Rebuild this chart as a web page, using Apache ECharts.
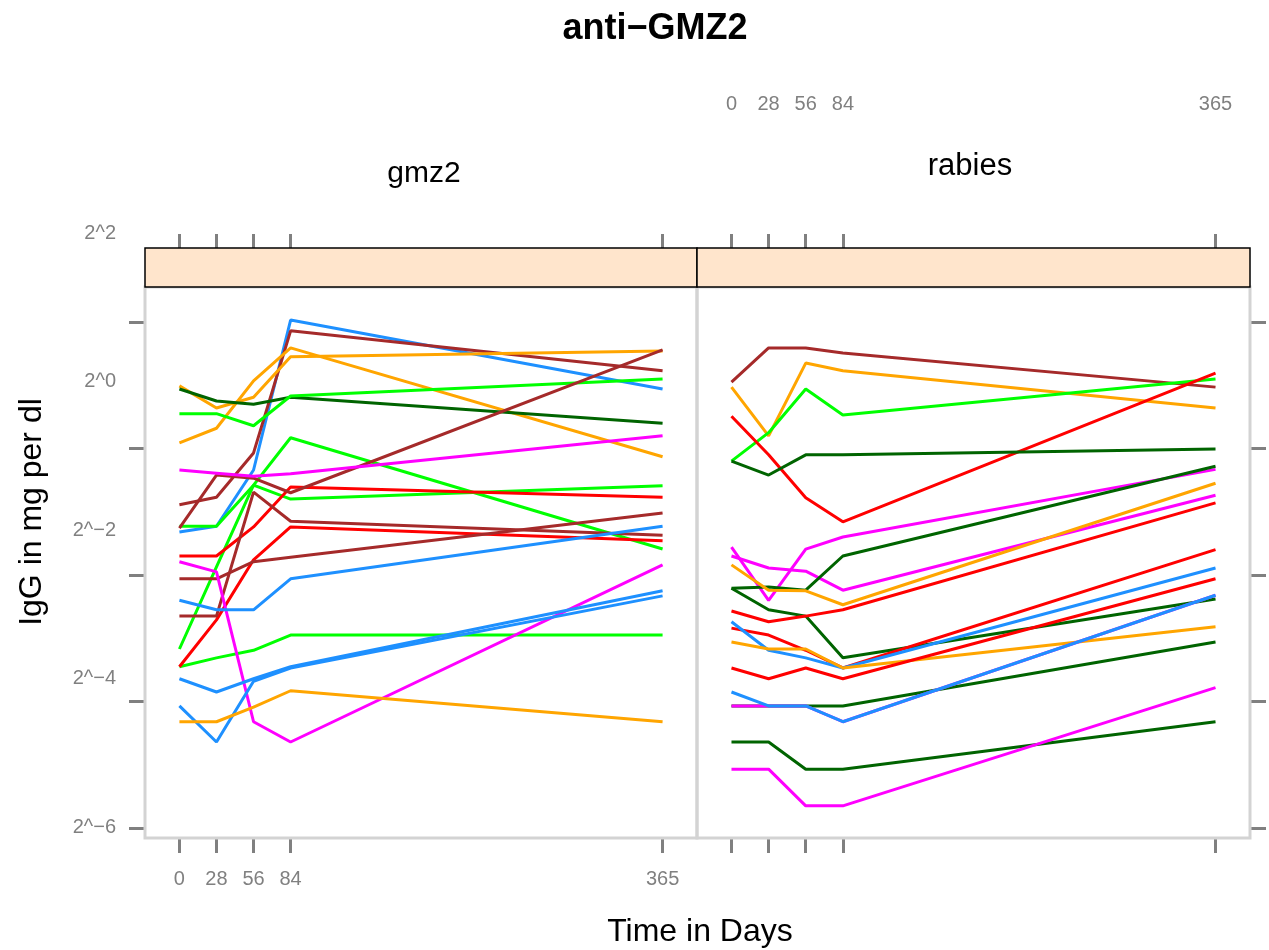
<!DOCTYPE html>
<html>
<head>
<meta charset="utf-8">
<script src="https://cdn.jsdelivr.net/npm/echarts@6/dist/echarts.min.js"></script>
<style>
html,body{margin:0;padding:0;background:#fff;}
#chart{width:1269px;height:950px;}
</style>
</head>
<body>
<div id="chart"></div>
<script>
// ---------- DATA (IgG in mg per dl, stored as log2 exponent) ----------
const days = [0, 28, 56, 84, 365];
const dayTicks = [0, 28, 56, 84, 365];
const yTickExponents = [-6, -4, -2, 0, 2];
const panelNames = ['gmz2', 'rabies'];

// gmz2 panel
const gmz2_blue1   = [-1.32, -1.23, -0.34, 2.03, 0.94];
const gmz2_brown1  = [-0.89, -0.77, -0.07, 1.86, 1.23];
const gmz2_orange1 = [0.99, 0.64, 0.81, 1.45, 1.54];
const gmz2_orange2 = [0.09, 0.32, 1.07, 1.59, -0.13];
const gmz2_dkgreen1= [0.94, 0.75, 0.70, 0.81, 0.40];
const gmz2_green1  = [0.55, 0.55, 0.36, 0.83, 1.10];
const gmz2_green2  = [-1.23, -1.23, -0.58, 0.17, -1.59];
const gmz2_green3  = [-3.17, -1.87, -0.58, -0.80, -0.59];
const gmz2_green4  = [-3.45, -3.31, -3.19, -2.95, -2.95];
const gmz2_red1    = [-1.70, -1.70, -1.24, -0.61, -0.77];
const gmz2_red2    = [-3.45, -2.71, -1.76, -1.24, -1.46];
const gmz2_brown2  = [-1.26, -0.42, -0.47, -0.70, 1.56];
const gmz2_brown3  = [-2.06, -2.06, -1.79, -1.72, -1.02];
const gmz2_brown4  = [-2.65, -2.65, -0.69, -1.15, -1.37];
const gmz2_magenta1= [-0.34, -0.39, -0.44, -0.40, 0.20];
const gmz2_magenta2= [-1.79, -1.95, -4.32, -4.64, -1.84];
const gmz2_blue2   = [-2.40, -2.55, -2.55, -2.06, -1.23];
const gmz2_blue3   = [-3.64, -3.85, -3.64, -3.45, -2.25];
const gmz2_blue4   = [-4.07, -4.64, -3.68, -3.47, -2.33];
const gmz2_orange3 = [-4.32, -4.32, -4.09, -3.83, -4.32];

// rabies panel
const rab_brown1   = [1.05, 1.59, 1.59, 1.51, 0.97];
const rab_orange1  = [0.97, 0.20, 1.35, 1.23, 0.64];
const rab_green1   = [-0.20, 0.25, 0.94, 0.53, 1.10];
const rab_red1     = [0.51, -0.10, -0.78, -1.16, 1.19];
const rab_dkgreen1 = [-0.20, -0.42, -0.10, -0.10, -0.01];
const rab_magenta1 = [-1.56, -2.40, -1.59, -1.40, -0.33];
const rab_magenta2 = [-1.70, -1.89, -1.94, -2.24, -0.74];
const rab_dkgreen2 = [-2.21, -2.19, -2.24, -1.70, -0.28];
const rab_dkgreen3 = [-2.21, -2.55, -2.65, -3.31, -2.38];
const rab_orange2  = [-1.84, -2.24, -2.25, -2.47, -0.55];
const rab_red2     = [-2.57, -2.74, -2.65, -2.55, -0.86];
const rab_red3     = [-2.84, -2.95, -3.19, -3.47, -1.60];
const rab_blue1    = [-2.74, -3.19, -3.31, -3.47, -1.89];
const rab_orange3  = [-3.06, -3.17, -3.17, -3.47, -2.82];
const rab_red4     = [-3.47, -3.64, -3.47, -3.64, -2.06];
const rab_dkgreen4 = [-4.07, -4.07, -4.07, -4.07, -3.06];
const rab_magenta3 = [-4.07, -4.07, -4.07, -4.32, -2.32];
const rab_blue2    = [-3.85, -4.07, -4.07, -4.32, -2.32];
const rab_dkgreen5 = [-4.64, -4.64, -5.07, -5.07, -4.32];
const rab_magenta4 = [-5.07, -5.07, -5.65, -5.65, -3.78];

// ---------- STYLE ----------
const COL = {
  blue: '#1E90FF', brown: '#A52A2A', orange: '#FFA500', green: '#00FF00',
  dkgreen: '#006400', red: '#FF0000', magenta: '#FF00FF'
};
const gmz2Lines = [
  ['blue', gmz2_blue1], ['brown', gmz2_brown1], ['orange', gmz2_orange1], ['orange', gmz2_orange2],
  ['dkgreen', gmz2_dkgreen1], ['green', gmz2_green1], ['green', gmz2_green2], ['green', gmz2_green3],
  ['green', gmz2_green4], ['red', gmz2_red1], ['red', gmz2_red2], ['brown', gmz2_brown2],
  ['brown', gmz2_brown3], ['brown', gmz2_brown4], ['magenta', gmz2_magenta1], ['magenta', gmz2_magenta2],
  ['blue', gmz2_blue2], ['blue', gmz2_blue3], ['blue', gmz2_blue4], ['orange', gmz2_orange3]
];
const rabiesLines = [
  ['brown', rab_brown1], ['orange', rab_orange1], ['green', rab_green1], ['red', rab_red1],
  ['dkgreen', rab_dkgreen1], ['magenta', rab_magenta1], ['magenta', rab_magenta2], ['dkgreen', rab_dkgreen2],
  ['dkgreen', rab_dkgreen3], ['orange', rab_orange2], ['red', rab_red2], ['red', rab_red3],
  ['blue', rab_blue1], ['orange', rab_orange3], ['red', rab_red4], ['dkgreen', rab_dkgreen4],
  ['magenta', rab_magenta3], ['blue', rab_blue2], ['dkgreen', rab_dkgreen5], ['magenta', rab_magenta4]
];

const FONT = '"Liberation Sans", Arial, Helvetica, sans-serif';
const TICK_COLOR = '#808080';
const LABEL_COLOR = '#808080';
const X_MIN = -26, X_MAX = 391;
const Y_MIN = -6.158, Y_MAX = 2.553;

function mkSeries(lines, idx) {
  return lines.map(([c, vals], i) => ({
    type: 'line',
    name: panelNames[idx] + '_' + i,
    xAxisIndex: idx, yAxisIndex: idx,
    data: days.map((d, k) => [d, vals[k]]),
    symbol: 'none',
    lineStyle: { color: COL[c], width: 3 },
    itemStyle: { color: COL[c] },
    z: 3,
    silent: true
  }));
}

const tickStyle = { lineStyle: { color: TICK_COLOR, width: 3 } };
const labelBase = { color: LABEL_COLOR, fontSize: 20, fontFamily: FONT };
const noLine = { show: false, onZero: false };

const option = {
  animation: false,
  backgroundColor: '#ffffff',
  grid: [
    { left: 145, top: 287, width: 552, height: 551, show: true, borderColor: '#D3D3D3', borderWidth: 3, backgroundColor: 'transparent', z: 1 },
    { left: 697, top: 287, width: 553, height: 551, show: true, borderColor: '#D3D3D3', borderWidth: 3, backgroundColor: 'transparent', z: 1 },
    { left: 145, top: 233, width: 552, height: 594, show: false }
  ],
  xAxis: [
    { type: 'value', gridIndex: 0, position: 'bottom', min: X_MIN, max: X_MAX,
      splitLine: { show: false }, axisLine: noLine,
      axisTick: { show: true, customValues: dayTicks, length: 15, ...tickStyle },
      axisLabel: { show: true, customValues: dayTicks, margin: 31, ...labelBase } },
    { type: 'value', gridIndex: 1, position: 'bottom', min: X_MIN, max: X_MAX,
      splitLine: { show: false }, axisLine: noLine,
      axisTick: { show: true, customValues: dayTicks, length: 15, ...tickStyle },
      axisLabel: { show: false } },
    { type: 'value', gridIndex: 0, position: 'top', offset: 39, min: X_MIN, max: X_MAX,
      splitLine: { show: false }, axisLine: noLine,
      axisTick: { show: true, customValues: dayTicks, length: 14, ...tickStyle },
      axisLabel: { show: false } },
    { type: 'value', gridIndex: 1, position: 'top', offset: 39, min: X_MIN, max: X_MAX,
      splitLine: { show: false }, axisLine: noLine,
      axisTick: { show: true, customValues: dayTicks, length: 14, ...tickStyle },
      axisLabel: { show: false } },
    { type: 'value', gridIndex: 1, position: 'top', offset: 165, min: X_MIN, max: X_MAX,
      splitLine: { show: false }, axisLine: noLine, axisTick: { show: false },
      axisLabel: { show: true, customValues: dayTicks, margin: 8, ...labelBase } },
    { type: 'value', gridIndex: 2, show: false, min: 0, max: 1, axisLine: noLine }
  ],
  yAxis: [
    { type: 'value', gridIndex: 0, position: 'left', min: Y_MIN, max: Y_MAX,
      splitLine: { show: false }, axisLine: noLine,
      axisTick: { show: true, customValues: yTickExponents, length: 16, ...tickStyle },
      axisLabel: { show: false } },
    { type: 'value', gridIndex: 1, position: 'right', min: Y_MIN, max: Y_MAX,
      splitLine: { show: false }, axisLine: noLine,
      axisTick: { show: true, customValues: yTickExponents, length: 16, ...tickStyle },
      axisLabel: { show: false } },
    { type: 'value', gridIndex: 2, position: 'left', min: -6, max: 2, interval: 2,
      splitLine: { show: false }, axisLine: noLine, axisTick: { show: false },
      axisLabel: { show: true, margin: 29, ...labelBase,
        formatter: v => '2^' + String(v).replace('-', '\u2212') } }
  ],
  graphic: [
    { type: 'rect', shape: { x: 145, y: 248, width: 552, height: 39 },
      style: { fill: '#FFE5CC', stroke: '#000', lineWidth: 1.5 }, z: 10 },
    { type: 'rect', shape: { x: 697, y: 248, width: 553, height: 39 },
      style: { fill: '#FFE5CC', stroke: '#000', lineWidth: 1.5 }, z: 10 },
    { type: 'text', x: 655, y: 29, style: { text: 'anti\u2212GMZ2', font: 'bold 36px ' + FONT, fill: '#000', textAlign: 'center', textVerticalAlign: 'middle' } },
    { type: 'text', x: 424, y: 174, style: { text: panelNames[0], font: '30px ' + FONT, fill: '#000', textAlign: 'center', textVerticalAlign: 'middle' } },
    { type: 'text', x: 970, y: 166, style: { text: panelNames[1], font: '31px ' + FONT, fill: '#000', textAlign: 'center', textVerticalAlign: 'middle' } },
    { type: 'text', x: 700, y: 932, style: { text: 'Time in Days', font: '32px ' + FONT, fill: '#000', textAlign: 'center', textVerticalAlign: 'middle' } },
    { type: 'text', x: 32, y: 512, rotation: Math.PI / 2, style: { text: 'IgG in mg per dl', font: '32px ' + FONT, fill: '#000', textAlign: 'center', textVerticalAlign: 'middle' } }
  ],
  series: [...mkSeries(gmz2Lines, 0), ...mkSeries(rabiesLines, 1)]
};

const chart = echarts.init(document.getElementById('chart'), null, { renderer: 'canvas' });
chart.setOption(option);
</script>
</body>
</html>
